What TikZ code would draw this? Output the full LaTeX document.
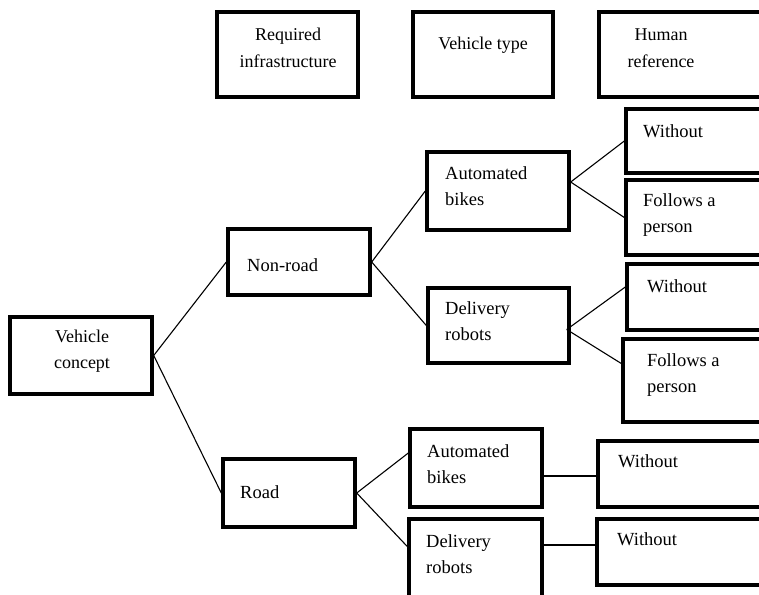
\documentclass[tikz,border=0pt]{standalone}
\usepackage{fontspec}
\setmainfont{Liberation Serif}
\begin{document}
\begin{tikzpicture}[x=1pt,y=-1pt,
  box/.style={draw=black, line width=3.4pt, rectangle, inner sep=0pt, fill=white},
  lbl/.style={font=\fontsize{18.5}{26.5}\selectfont, inner sep=0pt, align=left, anchor=west},
  hlbl/.style={font=\fontsize{18}{26.5}\selectfont, inner sep=0pt, align=center},
  conn/.style={draw=black, line width=1.1pt}]
\useasboundingbox (0,0) rectangle (759,594);
\clip (0,0) rectangle (759,594);
\fill[white] (0,0) rectangle (759,594);
% header boxes
\node[box, minimum width=141pt, minimum height=85pt] (hReq) at (287.5,54.5) {};
\node[box, minimum width=140pt, minimum height=85pt] (hType) at (483,54.5) {};
\node[box, minimum width=186pt, minimum height=85pt] (hHum) at (692,54.5) {};
% tree boxes
\node[box, minimum width=142pt, minimum height=77pt] (concept) at (81,355.5) {};
\node[box, minimum width=142pt, minimum height=66pt] (nonroad) at (299,262) {};
\node[box, minimum width=132pt, minimum height=68pt] (road) at (289,493) {};
\node[box, minimum width=142pt, minimum height=78pt] (bikesA) at (498,191) {};
\node[box, minimum width=141pt, minimum height=75pt] (robotsA) at (498.5,325.5) {};
\node[box, minimum width=132pt, minimum height=78pt] (bikesB) at (476,468) {};
\node[box, minimum width=133pt, minimum height=81pt] (robotsB) at (475.5,559.5) {};
\node[box, minimum width=164pt, minimum height=64pt] (wA) at (708,141) {};
\node[box, minimum width=164pt, minimum height=75pt] (fA) at (708,217.5) {};
\node[box, minimum width=163pt, minimum height=66pt] (wB) at (708.5,297) {};
\node[box, minimum width=167pt, minimum height=83pt] (fB) at (706.5,380.5) {};
\node[box, minimum width=192pt, minimum height=66pt] (wC) at (694,474) {};
\node[box, minimum width=193pt, minimum height=66pt] (wD) at (693.5,552) {};
% labels
\node[hlbl] (tReq) at (288,48) {Required\\infrastructure};
\node[hlbl] (tType) at (483,45) {Vehicle type};
\node[hlbl] (tHum) at (661,48) {Human\\reference};
\node[hlbl] (tConcept) at (82,351) {Vehicle\\concept};
\node[lbl] (tNonroad) at (247,265) {Non-road};
\node[lbl] (tRoad) at (240,492) {Road};
\node[lbl] (tBikesA) at (445,186) {Automated\\bikes};
\node[lbl] (tRobotsA) at (445,321) {Delivery\\robots};
\node[lbl] (tBikesB) at (427,464) {Automated\\bikes};
\node[lbl] (tRobotsB) at (426,554) {Delivery\\robots};
\node[lbl] (tWA) at (643,131) {Without};
\node[lbl] (tFA) at (643,215) {Follows a\\person};
\node[lbl] (tWB) at (647,286) {Without};
\node[lbl] (tFB) at (647,375) {Follows a\\person};
\node[lbl] (tWC) at (618,461) {Without};
\node[lbl] (tWD) at (617,539) {Without};
% connectors
\draw[conn] (concept.east) -- (nonroad.west);
\draw[conn] (concept.east) -- (road.west);
\draw[conn] (nonroad.east) -- (bikesA.west);
\draw[conn] (nonroad.east) -- (robotsA.west);
\draw[conn] ([yshift=9pt]bikesA.east) -- (wA.west);
\draw[conn] ([yshift=9pt]bikesA.east) -- (fA.west);
\draw[conn] ([xshift=-4pt,yshift=-4pt]robotsA.east) -- ([yshift=10pt]wB.west);
\draw[conn] ([xshift=-4pt,yshift=-4pt]robotsA.east) -- ([yshift=17pt]fB.west);
\draw[conn] (road.east) -- ([yshift=15pt]bikesB.west);
\draw[conn] (road.east) -- ([yshift=13pt]robotsB.west);
\draw[conn] ([yshift=-8pt]bikesB.east) -- ([yshift=-2pt]wC.west);
\draw[conn] ([yshift=14.5pt]robotsB.east) -- ([yshift=7pt]wD.west);
\end{tikzpicture}
\end{document}
